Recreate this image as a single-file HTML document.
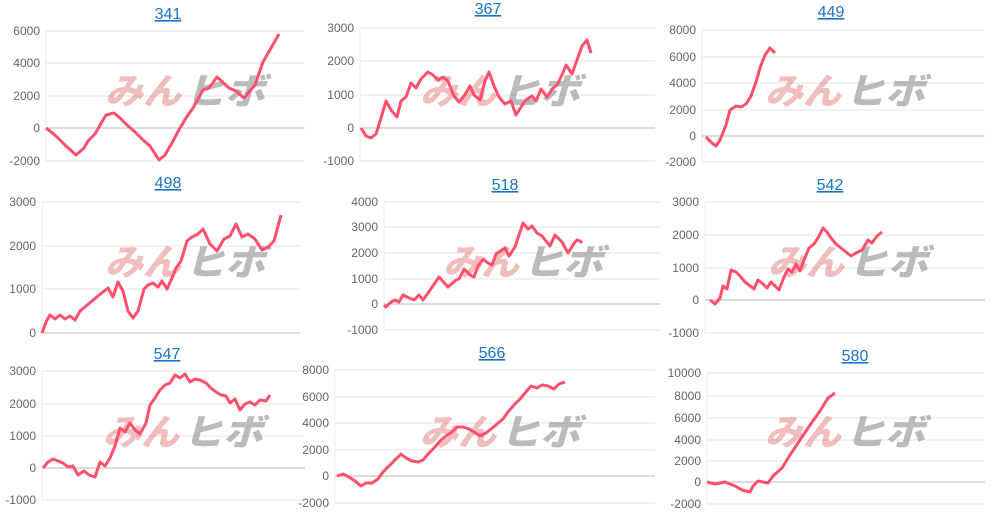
<!DOCTYPE html>
<html><head><meta charset="utf-8"><style>
body{margin:0;width:996px;height:516px;background:#fff;overflow:hidden}
svg{display:block}
.t{font-family:"Liberation Sans",sans-serif;font-size:16px;fill:#1a73c8;text-decoration:underline}
.a{font-family:"Liberation Sans",sans-serif;font-size:12px;fill:#666;text-anchor:end}
.w{font-family:"Noto Sans CJK JP",sans-serif;font-size:36px;font-weight:900;font-style:italic}
</style></head><body>
<svg id="s" width="996" height="516" xmlns="http://www.w3.org/2000/svg"></svg>
<script>
const C=[
{t:"341",tx:168,ty:19,l:46,r:305,ticks:[[6000,31],[4000,63],[2000,96],[0,128],[-2000,161]],wx:105,wy:104,
p:[[46,128],[50,131],[57,137],[65,145],[76,155],[84,148],[88,141],[95,134],[99,127],[106,115],[114,113],[120,118],[127,125],[135,132],[143,140],[150,146],[159,160],[165,155],[173,141],[180,128],[186,118],[193,108],[203,90],[209,88],[217,77],[229,88],[236,91],[244,98],[249,92],[255,85],[263,62],[271,48],[279,34]]},
{t:"367",tx:488,ty:14,l:360,r:655,ticks:[[3000,28],[2000,61],[1000,95],[0,128],[-1000,161]],wx:420,wy:104,
p:[[361,128],[366,136],[371,138],[376,134],[381,118],[386,101],[391,110],[397,117],[401,101],[406,97],[411,83],[416,88],[421,79],[428,72],[433,75],[438,80],[443,77],[448,81],[454,96],[459,102],[464,96],[470,86],[474,95],[480,100],[485,81],[489,72],[494,86],[499,97],[505,104],[511,101],[516,115],[521,107],[526,100],[532,96],[536,101],[541,89],[547,97],[552,89],[557,85],[562,75],[566,65],[572,74],[577,60],[582,46],[587,40],[591,53]]},
{t:"449",tx:831,ty:17,l:702,r:985,ticks:[[8000,30],[6000,57],[4000,83],[2000,110],[0,136],[-2000,162]],wx:765,wy:104,
p:[[706,137],[712,143],[716,146],[720,140],[726,125],[730,110],[736,106],[741,107],[746,104],[751,96],[756,82],[760,68],[765,55],[770,48],[775,53]]},
{t:"498",tx:168,ty:188,l:42,r:300,ticks:[[3000,202],[2000,246],[1000,289],[0,333]],wx:105,wy:275,
p:[[42,333],[46,322],[50,315],[55,319],[60,315],[65,319],[70,316],[75,320],[80,311],[86,306],[92,301],[98,296],[103,292],[108,288],[113,297],[118,282],[123,291],[128,311],[133,318],[138,311],[144,289],[148,285],[153,283],[158,287],[162,281],[167,289],[172,278],[176,268],[181,261],[187,241],[192,237],[198,234],[203,229],[210,244],[217,251],[224,239],[230,236],[236,224],[242,237],[248,234],[255,239],[262,250],[268,247],[274,241],[281,215]]},
{t:"518",tx:505,ty:190,l:384,r:660,ticks:[[4000,202],[3000,227],[2000,253],[1000,279],[0,304],[-1000,330]],wx:443,wy:275,
p:[[384,305],[386,307],[391,302],[395,300],[399,302],[403,295],[409,298],[414,300],[419,295],[423,300],[428,293],[439,277],[448,287],[456,280],[459,279],[464,269],[470,275],[474,277],[478,266],[483,259],[488,263],[492,265],[496,254],[505,248],[509,256],[515,247],[523,223],[528,229],[532,226],[537,233],[542,236],[550,246],[555,235],[562,242],[568,253],[575,242],[577,240],[580,241],[582,243]]},
{t:"542",tx:830,ty:190,l:705,r:985,ticks:[[3000,202],[2000,235],[1000,268],[0,300],[-1000,333]],wx:768,wy:275,
p:[[710,300],[715,304],[720,298],[723,286],[727,289],[731,270],[736,272],[740,276],[745,282],[749,285],[754,289],[758,280],[763,284],[767,288],[771,282],[775,286],[779,290],[784,277],[788,269],[792,272],[796,264],[800,271],[804,260],[809,248],[814,244],[818,238],[823,228],[827,232],[831,238],[836,244],[841,248],[846,252],[851,256],[856,253],[862,250],[868,240],[872,243],[877,236],[882,232]]},
{t:"547",tx:167,ty:359,l:42,r:305,ticks:[[3000,371],[2000,404],[1000,436],[0,468],[-1000,500]],wx:103,wy:445,
p:[[43,468],[48,462],[53,459],[58,461],[63,463],[68,467],[73,466],[78,475],[84,471],[89,475],[95,477],[100,462],[105,466],[110,458],[115,446],[120,428],[125,432],[130,423],[135,430],[140,434],[146,423],[150,405],[155,398],[160,390],[165,385],[170,383],[175,375],[180,378],[185,374],[190,382],[195,379],[200,380],[206,383],[211,388],[216,392],[221,395],[226,396],[230,403],[235,399],[240,410],[245,404],[250,402],[255,405],[260,400],[266,401],[270,395]]},
{t:"566",tx:492,ty:358,l:335,r:655,ticks:[[8000,370],[6000,397],[4000,423],[2000,450],[0,476],[-2000,503]],wx:420,wy:445,
p:[[337,476],[343,474],[349,477],[355,481],[361,486],[366,483],[372,483],[378,479],[383,472],[389,466],[395,460],[401,454],[406,458],[412,461],[418,462],[423,460],[429,453],[435,447],[440,441],[446,436],[452,432],[457,427],[463,427],[469,429],[474,432],[480,436],[486,433],[491,429],[497,424],[503,419],[508,412],[514,405],[520,399],[525,393],[531,386],[537,388],[542,385],[548,386],[554,389],[559,384],[565,382]]},
{t:"580",tx:855,ty:361,l:707,r:985,ticks:[[10000,373],[8000,396],[6000,418],[4000,440],[2000,461],[0,482],[-2000,504]],wx:765,wy:445,
p:[[707,482],[715,484],[725,482],[735,486],[742,490],[750,492],[753,486],[758,481],[768,483],[773,476],[782,468],[790,455],[800,440],[810,425],[820,411],[828,398],[835,393]]}
];
let h="";
for(const c of C){
 h+=`<text class="t" x="${c.tx}" y="${c.ty}" text-anchor="middle">${c.t}</text>`;
 const b=c.ticks[c.ticks.length-1][1];
 h+=`<line x1="${c.l}" y1="${c.ticks[0][1]}" x2="${c.l}" y2="${b}" stroke="#eee"/>`;
 for(const [v,y] of c.ticks){
  h+=`<line x1="${c.l}" y1="${y}" x2="${c.r}" y2="${y}" stroke="${v==0?'#bbb':'#e6e6e6'}"/>`;
  h+=`<text class="a" x="${c.l-6}" y="${y+4}">${v}</text>`;
 }
 h+=`<text class="w" x="${c.wx}" y="${c.wy}" textLength="76" lengthAdjust="spacingAndGlyphs" fill="rgba(215,70,70,0.35)">みん</text><text class="w" x="${c.wx+80}" y="${c.wy}" textLength="80" lengthAdjust="spacingAndGlyphs" fill="rgba(120,120,120,0.5)">ヒボ</text>`;
 h+=`<polyline fill="none" stroke="#ff4f6d" stroke-width="3" stroke-linejoin="round" points="${c.p.map(q=>q.join(',')).join(' ')}"/>`;
}
document.getElementById('s').innerHTML=h;
</script>
</body></html>
